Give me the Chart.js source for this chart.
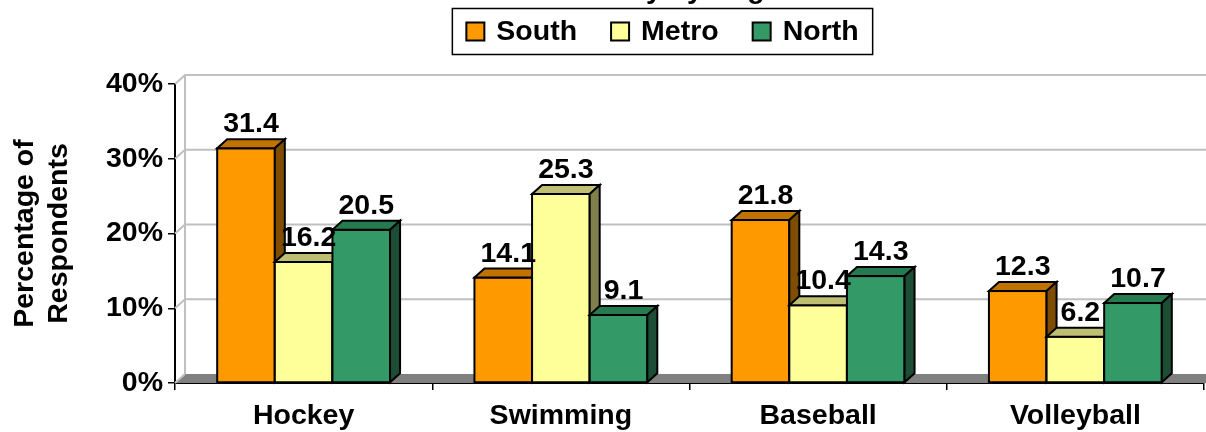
<!DOCTYPE html>
<html>
<head>
<meta charset="utf-8">
<script src="https://cdn.jsdelivr.net/npm/chart.js@4.4.1/dist/chart.umd.min.js"></script>
<style>
  html, body { margin: 0; padding: 0; background: #fff; }
  #wrap { position: relative; width: 1206px; height: 432px; overflow: hidden; }
  canvas { display: block; }
</style>
</head>
<body>
<div id="wrap"><canvas id="chart" width="1206" height="432"></canvas></div>
<script>
// Sports by region (percentage of respondents)
const categories = ['Hockey', 'Swimming', 'Baseball', 'Volleyball'];
const seriesNames = ['South', 'Metro', 'North'];
const southValues = [31.4, 14.1, 21.8, 12.3];
const metroValues = [16.2, 25.3, 10.4, 6.2];
const northValues = [20.5, 9.1, 14.3, 10.7];
const yTickValues = [0, 10, 20, 30, 40];
const chartTitle = 'Favourite Activity by Region';
const axisTitle = ['Percentage of', 'Respondents'];

// Face colours: front, top, side
const palette = [
  { front: '#FF9900', top: '#C07300', side: '#7F4D00' },
  { front: '#FFFF99', top: '#BFBF73', side: '#80804D' },
  { front: '#339966', top: '#267A50', side: '#1C4D35' }
];

const FONT = '"Liberation Sans", Arial, Helvetica, sans-serif';
const FS = 28.5;
const DX = 10, DY = -9;   // depth offset of the 3-D effect

const seriesValues = [southValues, metroValues, northValues];

// Back wall, side wall and floor
const wallPlugin = {
  id: 'wall',
  beforeDatasetsDraw(chart) {
    const { ctx, chartArea: a, scales: { y } } = chart;
    const W = chart.width;
    ctx.save();
    // floor
    const y0 = y.getPixelForValue(0);
    ctx.fillStyle = '#808080';
    ctx.beginPath();
    ctx.moveTo(a.left, y0);
    ctx.lineTo(a.left + DX, y0 + DY);
    ctx.lineTo(W, y0 + DY);
    ctx.lineTo(W, y0);
    ctx.closePath();
    ctx.fill();
    // grid lines on the walls
    ctx.strokeStyle = '#C0C0C0';
    ctx.lineWidth = 2;
    yTickValues.forEach(v => {
      const py = y.getPixelForValue(v);
      ctx.beginPath();
      ctx.moveTo(a.left, py);
      ctx.lineTo(a.left + DX, py + DY);
      if (v !== 0) ctx.lineTo(W, py + DY);
      ctx.stroke();
    });
    ctx.beginPath();
    ctx.moveTo(a.left + DX, y.getPixelForValue(40) + DY);
    ctx.lineTo(a.left + DX, y0 + DY);
    ctx.stroke();
    ctx.restore();
  }
};

// Bars drawn category by category so each bar's sides sit behind the next bar
const barsPlugin = {
  id: 'bars3d',
  beforeDatasetDraw() { return false; },
  afterDatasetsDraw(chart) {
    const { ctx } = chart;
    ctx.save();
    ctx.lineJoin = 'miter';
    for (let i = 0; i < categories.length; i++) {
      for (let d = 0; d < chart.data.datasets.length; d++) {
        const el = chart.getDatasetMeta(d).data[i];
        const { x, y, base, width } = el.getProps(['x', 'y', 'base', 'width'], true);
        const x0 = x - width / 2, x1 = x + width / 2;
        const c = palette[d];
        ctx.lineWidth = 2;
        ctx.strokeStyle = '#000';
        // front face
        ctx.fillStyle = c.front;
        ctx.fillRect(x0, y, width, base - y);
        ctx.strokeRect(x0, y, width, base - y);
        // top face
        ctx.fillStyle = c.top;
        ctx.beginPath();
        ctx.moveTo(x0, y);
        ctx.lineTo(x0 + DX, y + DY);
        ctx.lineTo(x1 + DX, y + DY);
        ctx.lineTo(x1, y);
        ctx.closePath();
        ctx.fill();
        ctx.stroke();
        // side face
        ctx.fillStyle = c.side;
        ctx.beginPath();
        ctx.moveTo(x1, y);
        ctx.lineTo(x1 + DX, y + DY);
        ctx.lineTo(x1 + DX, base + DY);
        ctx.lineTo(x1, base);
        ctx.closePath();
        ctx.fill();
        ctx.stroke();
      }
    }
    // value labels
    ctx.fillStyle = '#000';
    ctx.font = 'bold ' + FS + 'px ' + FONT;
    ctx.textAlign = 'center';
    ctx.textBaseline = 'alphabetic';
    chart.data.datasets.forEach((ds, d) => {
      chart.getDatasetMeta(d).data.forEach((el, i) => {
        ctx.fillText(ds.data[i].toFixed(1), el.x + DX / 2, el.y + DY - 7);
      });
    });
    ctx.restore();
  }
};

// Title (running off the top edge) and framed legend
const legendPlugin = {
  id: 'frameLegend',
  afterDraw(chart) {
    const { ctx } = chart;
    ctx.save();
    ctx.fillStyle = '#000';
    ctx.font = 'bold ' + FS + 'px ' + FONT;
    ctx.textAlign = 'center';
    ctx.textBaseline = 'alphabetic';
    ctx.fillText(chartTitle, 615, -2);

    const box = 18, gapText = 12, gapItem = 34, padX = 14;
    const widths = seriesNames.map(n => ctx.measureText(n).width);
    const inner = widths.reduce((s, w) => s + box + gapText + w, 0) + gapItem * (seriesNames.length - 1);
    const total = inner + padX * 2;
    const left = 662.5 - total / 2;
    const top = 8.5, h = 46;
    ctx.strokeStyle = '#000';
    ctx.lineWidth = 1.5;
    ctx.strokeRect(left, top, total, h);
    let x = left + padX;
    const cy = top + h / 2;
    ctx.textAlign = 'left';
    ctx.textBaseline = 'middle';
    seriesNames.forEach((n, i) => {
      ctx.fillStyle = palette[i].front;
      ctx.fillRect(x, cy - box / 2, box, box);
      ctx.lineWidth = 2;
      ctx.strokeRect(x, cy - box / 2, box, box);
      ctx.fillStyle = '#000';
      ctx.fillText(n, x + box + gapText, cy + 1);
      x += box + gapText + widths[i] + gapItem;
    });
    ctx.restore();
  }
};

new Chart(document.getElementById('chart'), {
  type: 'bar',
  data: {
    labels: categories,
    datasets: seriesNames.map((name, d) => ({
      label: name,
      data: seriesValues[d],
      backgroundColor: palette[d].front,
      borderColor: '#000',
      borderWidth: 2,
      categoryPercentage: 0.672,
      barPercentage: 1.0
    }))
  },
  options: {
    responsive: false,
    animation: false,
    events: [],
    layout: { padding: { top: 84, right: 2, bottom: 0, left: 0 } },
    plugins: {
      legend: { display: false },
      title: { display: false },
      tooltip: { enabled: false }
    },
    scales: {
      x: {
        afterFit(scale) { scale.height = 49; },
        grid: {
          display: true, drawOnChartArea: false, drawTicks: true,
          tickLength: 7, color: '#000', lineWidth: 1.5, offset: true
        },
        border: { display: true, color: '#000', width: 2 },
        ticks: {
          color: '#000', padding: 9, autoSkip: false, maxRotation: 0,
          font: { family: FONT, size: FS, weight: 'bold' }
        }
      },
      y: {
        min: 0, max: 40,
        afterFit(scale) { scale.width = 175; },
        afterBuildTicks(scale) { scale.ticks = yTickValues.map(v => ({ value: v })); },
        grid: {
          display: true, drawOnChartArea: false, drawTicks: true,
          tickLength: 7, color: '#000', lineWidth: 1.5
        },
        border: { display: true, color: '#000', width: 2 },
        ticks: {
          color: '#000', padding: 5,
          font: { family: FONT, size: FS, weight: 'bold' },
          callback: v => v + '%'
        },
        title: {
          display: true, text: axisTitle, color: '#000',
          padding: { top: 8, bottom: 0 },
          font: { family: FONT, size: FS, weight: 'bold' }
        }
      }
    }
  },
  plugins: [wallPlugin, barsPlugin, legendPlugin]
});
</script>
</body>
</html>
